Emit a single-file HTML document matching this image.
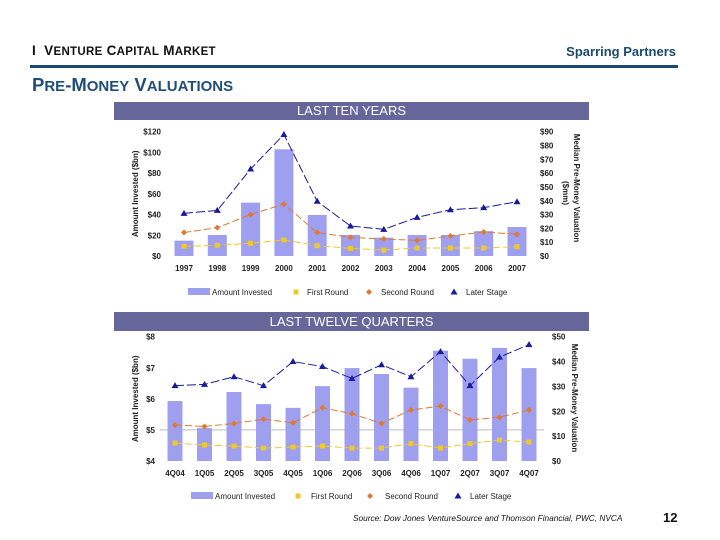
<!DOCTYPE html>
<html><head><meta charset="utf-8"><style>
body{margin:0;width:720px;height:540px;background:#fff;position:relative;overflow:hidden;font-family:"Liberation Sans",sans-serif}
.abs{position:absolute}
</style></head><body>
<div class="abs" style="left:32px;top:43px;font-size:13.5px;font-weight:bold;color:#111;letter-spacing:0.3px">I&nbsp; V<span style="font-size:11.5px">ENTURE</span> C<span style="font-size:11.5px">APITAL</span> M<span style="font-size:11.5px">ARKET</span></div>
<div class="abs" style="right:44px;top:44px;font-size:13px;font-weight:bold;color:#1a4a6e">Sparring Partners</div>
<div class="abs" style="left:30px;top:65px;width:648px;height:3px;background:#1a4a6e"></div>
<div class="abs" style="left:32px;top:74px;font-size:18.5px;font-weight:bold;color:#1f4e79">P<span style="font-size:15px">RE</span>-M<span style="font-size:15px">ONEY</span> V<span style="font-size:15px">ALUATIONS</span></div>
<div class="abs" style="left:114px;top:102px;width:475px;height:18px;background:#66669a;color:#fff;font-size:13px;text-align:center;line-height:18px">LAST TEN YEARS</div>
<div class="abs" style="left:114px;top:312px;width:475px;height:19px;background:#66669a;color:#fff;font-size:13px;text-align:center;line-height:19px">LAST TWELVE QUARTERS</div>
<div class="abs" style="left:353px;top:513px;font-size:8.3px;font-style:italic;color:#111">Source: Dow Jones VentureSource and Thomson Financial, PWC, NVCA</div>
<div class="abs" style="left:663px;top:510px;font-size:13px;font-weight:bold;color:#111">12</div>
<svg id="svg" class="abs" style="left:0;top:0" width="720" height="540"></svg>
<script>
const years=["1997","1998","1999","2000","2001","2002","2003","2004","2005","2006","2007"];
const yearInvested=[14.8,20.3,51.5,103,39.6,20.3,17.7,20.3,20.3,24,28];
const yearFirst=[7,7.7,9.2,11.6,7.5,5.5,4.3,5.8,5.8,5.8,6.8];
const yearSecond=[17,20.5,30,37.6,17,13.5,12.3,11.3,14.5,17.4,15.7];
const yearLater=[30.9,33,63,88,39.6,21.7,19.3,28,33.5,35,39.3];
const yearLeftTicks=["$0","$20","$40","$60","$80","$100","$120"];
const yearRightTicks=["$0","$10","$20","$30","$40","$50","$60","$70","$80","$90"];

const quarters=["4Q04","1Q05","2Q05","3Q05","4Q05","1Q06","2Q06","3Q06","4Q06","1Q07","2Q07","3Q07","4Q07"];
const qInvested=[5.93,5.06,6.22,5.83,5.71,6.41,6.99,6.8,6.36,7.55,7.29,7.64,6.99];
const qFirst=[7.2,6.4,6,5.2,5.6,6,5.2,5.2,7,5.2,7,8.4,7.6];
const qSecond=[14.5,13.9,15.1,16.8,15.4,21.4,19,15.1,20.5,22.1,16.5,17.6,20.5];
const qLater=[30.3,30.8,33.9,30.3,40,38,33.2,38.7,33.9,44,30.3,41.8,46.8];
const qLeftTicks=["$4","$5","$6","$7","$8"];
const qRightTicks=["$0","$10","$20","$30","$40","$50"];

const svg=document.getElementById('svg');
const NS="http://www.w3.org/2000/svg";
function mk(tag,attrs,text){const e=document.createElementNS(NS,tag);for(const k in attrs)e.setAttribute(k,attrs[k]);if(text!==undefined)e.textContent=text;svg.appendChild(e);return e;}

function chart(o){
  const n=o.cats.length, step=(o.x1-o.x0)/(n-1);
  const xs=i=>o.x0+i*step;
  const yl=v=>o.yb-(v-o.lmin)/(o.lmax-o.lmin)*(o.yb-o.yt);
  const yr=v=>o.yb-v/o.rmax*(o.yb-o.yt);
  o.lt.forEach((t,i)=>{const v=o.lmin+i*(o.lmax-o.lmin)/(o.lt.length-1);
    const e=mk('text',{x:o.lx,y:yl(v)+3,'font-size':8,'font-weight':'bold','text-anchor':'end',fill:'#222'},t);
    });
  o.rt.forEach((t,i)=>{const v=i*o.rmax/(o.rt.length-1);
    const e=mk('text',{x:o.rx,y:yr(v)+3,'font-size':8,'font-weight':'bold',fill:'#222'},t);
    });
  if(o.grid!==undefined){const g=mk('line',{x1:o.x0-15,x2:o.x1+15,y1:yl(o.grid),y2:yl(o.grid),stroke:'#bbb','stroke-width':1});
    }
  o.cats.forEach((c,i)=>{
    const y=yl(o.inv[i]);
    const b=mk('rect',{x:xs(i)-o.bw/2,y:y,width:o.bw,height:o.yb-y,fill:'#9f9ff0'});
    
    const t=mk('text',{x:xs(i),y:o.yb+15,'font-size':8,'font-weight':'bold','text-anchor':'middle',fill:'#222'},c);
    
  });
  function series(vals,color,shape,name,dash){
    const p=mk('polyline',{points:vals.map((v,i)=>xs(i)+','+yr(v)).join(' '),fill:'none',stroke:color,'stroke-width':1,'stroke-dasharray':dash});
    
    vals.forEach((v,i)=>{const e=marker(xs(i),yr(v),color,shape);
      });
  }
  series(o.first,'#f0c828','sq','first-round','7,3');
  series(o.second,'#e07830','dia','second-round','7,3');
  series(o.later,'#1a1a9a','tri','later-stage','9,3');
  const L=o.leg;
  const lb=mk('rect',{x:L[0],y:o.ly-4,width:22,height:7,fill:'#9f9ff0'});
  [['Amount Invested',L[0]+24],['First Round',L[2]],['Second Round',L[4]],['Later Stage',L[6]]].forEach(a=>{
    const e=mk('text',{x:a[1],y:o.ly+3,'font-size':8,fill:'#222'},a[0]);});
  [[L[1],'#f0c828','sq'],[L[3],'#e07830','dia'],[L[5],'#1a1a9a','tri']].forEach(a=>{
    const e=marker(a[0],o.ly,a[1],a[2]);});
  const at=mk('text',{transform:`translate(${o.atx},${(o.yt+o.yb)/2}) rotate(-90)`,'font-size':8,'font-weight':'bold','text-anchor':'middle',fill:'#222'},'Amount Invested ($bn)');
  
}
function marker(x,y,c,s){
  if(s==='sq')return mk('rect',{x:x-2.5,y:y-2.5,width:5,height:5,fill:c});
  if(s==='dia')return mk('polygon',{points:`${x},${y-3} ${x+3},${y} ${x},${y+3} ${x-3},${y}`,fill:c});
  return mk('polygon',{points:`${x},${y-3.5} ${x+3.5},${y+2.5} ${x-3.5},${y+2.5}`,fill:c});
}
chart({cats:years,inv:yearInvested,first:yearFirst,second:yearSecond,later:yearLater,lt:yearLeftTicks,rt:yearRightTicks,
  x0:184,x1:517,yt:131.7,yb:256,lmin:0,lmax:120,rmax:90,bw:19,lx:161,rx:540,atx:138,ly:292,leg:[188,296,307,369,381,454,466]});
chart({cats:quarters,inv:qInvested,first:qFirst,second:qSecond,later:qLater,lt:qLeftTicks,rt:qRightTicks,
  x0:175,x1:529,yt:336.7,yb:461,lmin:4,lmax:8,rmax:50,bw:15,lx:155,rx:552,atx:138,ly:496,leg:[191,298,311,370,385,458,470],grid:5});
const r1=mk('text',{transform:'translate(574,188) rotate(90)','font-size':8,'font-weight':'bold','text-anchor':'middle',fill:'#222'},'Median Pre-Money Valuation');

const r1b=mk('text',{transform:'translate(563,193) rotate(90)','font-size':8,'font-weight':'bold','text-anchor':'middle',fill:'#222'},'($mm)');

const r2=mk('text',{transform:'translate(572,398) rotate(90)','font-size':8,'font-weight':'bold','text-anchor':'middle',fill:'#222'},'Median Pre-Money Valuation');

</script>
</body></html>
